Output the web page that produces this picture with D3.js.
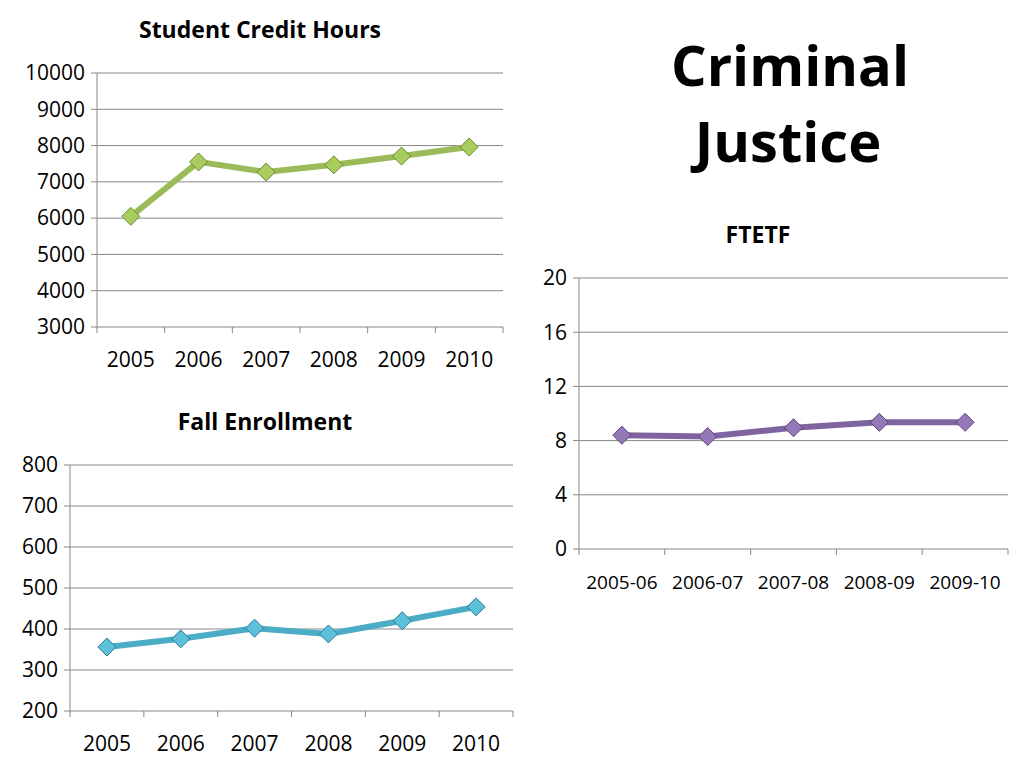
<!DOCTYPE html><html><head><meta charset="utf-8">
<script src="https://cdn.jsdelivr.net/npm/d3@7"></script>
<style>body{margin:0;background:#fff}text{font-family:"Open Sans",sans-serif}</style></head><body>
<svg id="c" width="1024" height="768"></svg>
<script>
const years=["2005","2006","2007","2008","2009","2010"];
const creditHours=[6050,7550,7270,7470,7710,7960];
const enrollment=[356,376,402,388,420,454];
const fyears=["2005-06","2006-07","2007-08","2008-09","2009-10"];
const ftetf=[8.4,8.3,8.95,9.35,9.35];
const creditTicks=[3000,4000,5000,6000,7000,8000,9000,10000];
const enrollTicks=[200,300,400,500,600,700,800];
const ftetfTicks=[0,4,8,12,16,20];

const svg=d3.select("#c");
function chart(o){
  const g=svg.append("g");
  const x=d3.scaleBand().domain(o.cats).range([o.x0,o.x1]);
  const y=d3.scaleLinear().domain(o.dom).range([o.y1,o.y0]);
  o.ticks.forEach(t=>{
    g.append("line").attr("x1",o.x0).attr("x2",o.x1).attr("y1",y(t)).attr("y2",y(t)).attr("stroke","#888").attr("stroke-width",1);
    g.append("line").attr("x1",o.x0-6).attr("x2",o.x0).attr("y1",y(t)).attr("y2",y(t)).attr("stroke","#888");
    g.append("text").attr("x",o.x0-12).attr("y",y(t)).attr("dy","0.35em").attr("text-anchor","end").attr("font-size",21).attr("fill","#000").text(t);
  });
  g.append("line").attr("x1",o.x0).attr("x2",o.x0).attr("y1",o.y0).attr("y2",o.y1).attr("stroke","#888");
  const edges=o.cats.map(c=>x(c)).concat([o.x1]);
  edges.forEach(e=>g.append("line").attr("x1",e).attr("x2",e).attr("y1",o.y1).attr("y2",o.y1+6).attr("stroke","#888"));
  o.cats.forEach(c=>g.append("text").attr("x",x(c)+x.bandwidth()/2).attr("y",o.y1+40).attr("text-anchor","middle").attr("font-size",o.lfs||21).text(c));
  g.append("text").attr("x",o.tx).attr("y",o.ty).attr("text-anchor","middle").attr("font-size",23).attr("font-weight","bold").text(o.title);
  const px=i=>x(o.cats[i])+x.bandwidth()/2;
  g.append("path").attr("d",d3.line().x((d,i)=>px(i)).y(d=>y(d))(o.vals)).attr("fill","none").attr("stroke",o.color).attr("stroke-width",6);
  o.vals.forEach((d,i)=>g.append("path").attr("d",`M${px(i)},${y(d)-9}L${px(i)+9},${y(d)}L${px(i)},${y(d)+9}L${px(i)-9},${y(d)}Z`).attr("fill",o.fill).attr("stroke",o.dark).attr("stroke-width",1));
}
chart({cats:years,vals:creditHours,dom:[3000,10000],ticks:creditTicks,x0:97,x1:503,y0:73,y1:327,title:"Student Credit Hours",tx:260,ty:38,color:"#9bbb59",fill:"#a9cc5e",dark:"#6e8a35"});
chart({cats:years,vals:enrollment,dom:[200,800],ticks:enrollTicks,x0:70,x1:513,y0:465,y1:711,title:"Fall Enrollment",tx:265,ty:430,color:"#4bacc6",fill:"#5cc0da",dark:"#2a7d93"});
chart({cats:fyears,vals:ftetf,dom:[0,20],ticks:ftetfTicks,x0:579,x1:1008,y0:278,y1:549,title:"FTETF",tx:758,ty:243,color:"#8064a2",fill:"#9478b8",dark:"#5a4478",lfs:19});
svg.append("text").attr("x",790).attr("y",86).attr("text-anchor","middle").attr("font-size",56).attr("font-weight","bold").attr("font-family","Lato").text("Criminal");
svg.append("text").attr("x",788).attr("y",162).attr("text-anchor","middle").attr("font-size",56).attr("font-weight","bold").attr("font-family","Lato").text("Justice");
</script></body></html>
